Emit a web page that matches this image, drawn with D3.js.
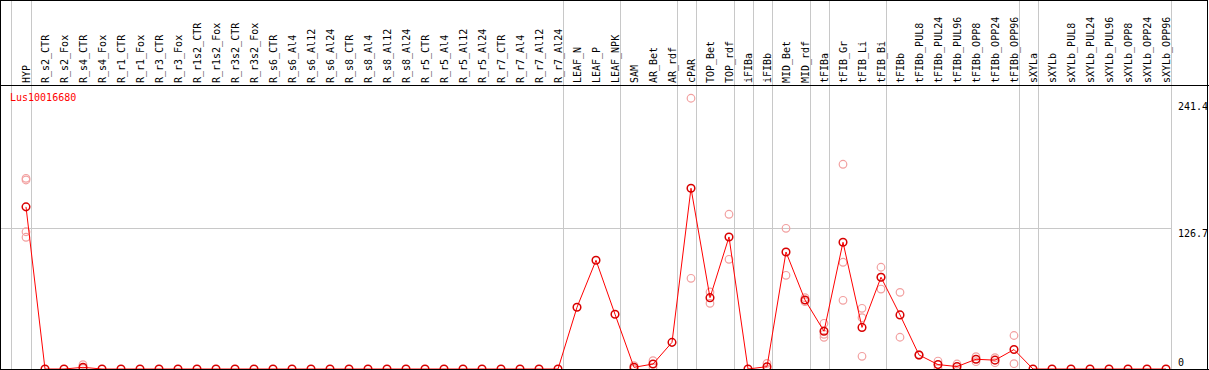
<!DOCTYPE html>
<html lang="en">
<head>
    <meta charset="UTF-8">
    <title>Lus10016680</title>
    <script src="https://d3js.org/d3.v7.min.js"></script>
    <style>
        body { margin: 0; background: #fff; }
        text { font-family: "DejaVu Sans Mono", monospace; font-size: 10px; }
    </style>
</head>
<body>
<svg width="1209" height="370" id="canvas"></svg>

<script>

    // sample names, in drawing order
    const categories = ["HYP",
        "R_s2_CTR", "R_s2_Fox", "R_s4_CTR", "R_s4_Fox", "R_r1_CTR", "R_r1_Fox", "R_r3_CTR", "R_r3_Fox",
        "R_r1s2_CTR", "R_r1s2_Fox", "R_r3s2_CTR", "R_r3s2_Fox",
        "R_s6_CTR", "R_s6_Al4", "R_s6_Al12", "R_s6_Al24", "R_s8_CTR", "R_s8_Al4", "R_s8_Al12", "R_s8_Al24",
        "R_r5_CTR", "R_r5_Al4", "R_r5_Al12", "R_r5_Al24", "R_r7_CTR", "R_r7_Al4", "R_r7_Al12", "R_r7_Al24",
        "LEAF_N", "LEAF_P", "LEAF_NPK", "SAM", "AR_Bet", "AR_rdf", "cPAR", "TOP_Bet", "TOP_rdf",
        "iFIBa", "iFIBb", "MID_Bet", "MID_rdf", "tFIBa", "tFIB_Gr", "tFIB_Li", "tFIB_Bi",
        "tFIBb", "tFIBb_PUL8", "tFIBb_PUL24", "tFIBb_PUL96", "tFIBb_OPP8", "tFIBb_OPP24", "tFIBb_OPP96",
        "sXYLa", "sXYLb", "sXYLb_PUL8", "sXYLb_PUL24", "sXYLb_PUL96", "sXYLb_OPP8", "sXYLb_OPP24", "sXYLb_OPP96"];

    // mean expression per sample
    const means = [146.6,
        0, 0, 1.5, 0, 0, 0, 0, 0,
        0, 0, 0, 0,
        0, 0, 0, 0, 0, 0, 0, 0,
        0, 0, 0, 0, 0, 0, 0, 0,
        55.8, 98.3, 49.5, 1.5, 4.5, 24.1, 163.4, 64.5, 119.4,
        0, 2.1, 105.8, 62.4, 34.1, 114.6, 37.6, 83.0,
        48.9, 12.7, 4.0, 2.2, 8.8, 8.0, 17.6,
        0, 0, 0, 0, 0, 0, 0, 0];

    // single replicates (pink circles)
    const replicates = [
        ["HYP", [172.4, 170.9, 124.1, 119.1]],
        ["R_s4_CTR", [4.0, 0.5]],
        ["SAM", [3.0, 0]],
        ["AR_Bet", [7.5, 1.5]],
        ["cPAR", [244.8, 82.0]],
        ["TOP_Bet", [69.6, 59.4]],
        ["TOP_rdf", [139.9, 99.2]],
        ["iFIBb", [5.1, 0]],
        ["MID_Bet", [127.2, 84.7]],
        ["MID_rdf", [64.5, 60.9]],
        ["tFIBa", [41.3, 31.4, 28.6]],
        ["tFIB_Gr", [185.1, 96.5, 62.1]],
        ["tFIB_Li", [54.9, 46.4, 11.5]],
        ["tFIB_Bi", [92.0, 83.0, 72.3]],
        ["tFIBb", [69.3, 28.7]],
        ["tFIBb_PUL8", [13.0, 12.4]],
        ["tFIBb_PUL24", [7.2, 0.6]],
        ["tFIBb_PUL96", [4.5, 0]],
        ["tFIBb_OPP8", [11.1, 6.6]],
        ["tFIBb_OPP24", [10.2, 5.7]],
        ["tFIBb_OPP96", [30.3, 4.8]]
    ];

    // last sample of each tissue group -> grey separator after it
    const groupEnds = ["HYP", "R_r7_Al24", "LEAF_NPK", "AR_rdf", "cPAR", "TOP_rdf", "iFIBa", "iFIBb",
        "MID_rdf", "tFIBa", "tFIB_Bi", "tFIBb_OPP96", "sXYLa", "sXYLb_OPP96"];

    const yTicks = [0, 126.7, 241.4];
    const geneName = "Lus10016680";

    let svg = d3.select("svg");
    const W = 1209, H = 370, headerY = 85.5;

    let x = d3.scalePoint().domain(categories).range([26, 1166]);
    let y = d3.scaleLinear().domain([0, 241.4]).range([369, 102]);

    // grid
    let grid = svg.append("g").attr("shape-rendering", "crispEdges");
    grid.append("line")
        .attr("x1", 0).attr("x2", 1171).attr("y1", y(126.7)).attr("y2", y(126.7))
        .attr("stroke", "#c8c8c8");

    let seps = [x(categories[0]) - 15.5].concat(groupEnds.map(d => x(d) + 4.5));
    grid.selectAll(".sep")
        .data(seps)
        .enter()
        .append("line")
        .attr("class", "sep")
        .attr("x1", d => Math.round(d) + 0.5).attr("x2", d => Math.round(d) + 0.5)
        .attr("y1", 0).attr("y2", H)
        .attr("stroke", "#c8c8c8");

    // header labels
    svg.append("g").selectAll("text")
        .data(categories)
        .enter()
        .append("text")
        .attr("transform", d => `translate(${x(d) + 3.5},83) rotate(-90)`)
        .attr("fill", "#000")
        .text(d => d);

    // y labels on the right
    svg.append("g").selectAll("text")
        .data(yTicks)
        .enter()
        .append("text")
        .attr("x", 1178)
        .attr("y", d => Math.min(y(d) + 8, 365.5))
        .attr("fill", "#000")
        .text(d => d);

    svg.append("text")
        .attr("x", 10).attr("y", 100.5)
        .attr("fill", "#ff0000")
        .text(geneName);

    // replicate points
    let repPts = [];
    replicates.forEach(([c, vals]) => vals.forEach(v => repPts.push({c: c, v: v})));
    svg.append("g").selectAll("circle")
        .data(repPts)
        .enter()
        .append("circle")
        .attr("cx", d => x(d.c))
        .attr("cy", d => y(d.v))
        .attr("r", 3.8)
        .attr("fill", "none")
        .attr("stroke", "#f2a0a0")
        .attr("stroke-width", 1.2);

    // mean line
    let line = d3.line().x((d, i) => x(categories[i])).y(d => y(d));
    svg.append("path")
        .datum(means)
        .attr("d", line)
        .attr("fill", "none")
        .attr("stroke", "#ff0000")
        .attr("stroke-width", 1);

    svg.append("g").selectAll("circle")
        .data(means)
        .enter()
        .append("circle")
        .attr("cx", (d, i) => x(categories[i]))
        .attr("cy", d => y(d))
        .attr("r", 3.8)
        .attr("fill", "none")
        .attr("stroke", "#d80000")
        .attr("stroke-width", 1.5);

    // frame
    let frame = svg.append("g").attr("shape-rendering", "crispEdges");
    frame.append("rect")
        .attr("x", 0.5).attr("y", 0.5).attr("width", W - 2).attr("height", H - 1.5)
        .attr("fill", "none").attr("stroke", "#000");
    frame.append("line")
        .attr("x1", 0).attr("x2", W).attr("y1", headerY).attr("y2", headerY)
        .attr("stroke", "#000");
    frame.append("line")
        .attr("x1", 0).attr("x2", W).attr("y1", 369.5).attr("y2", 369.5)
        .attr("stroke", "#000");

</script>
</body>
</html>
